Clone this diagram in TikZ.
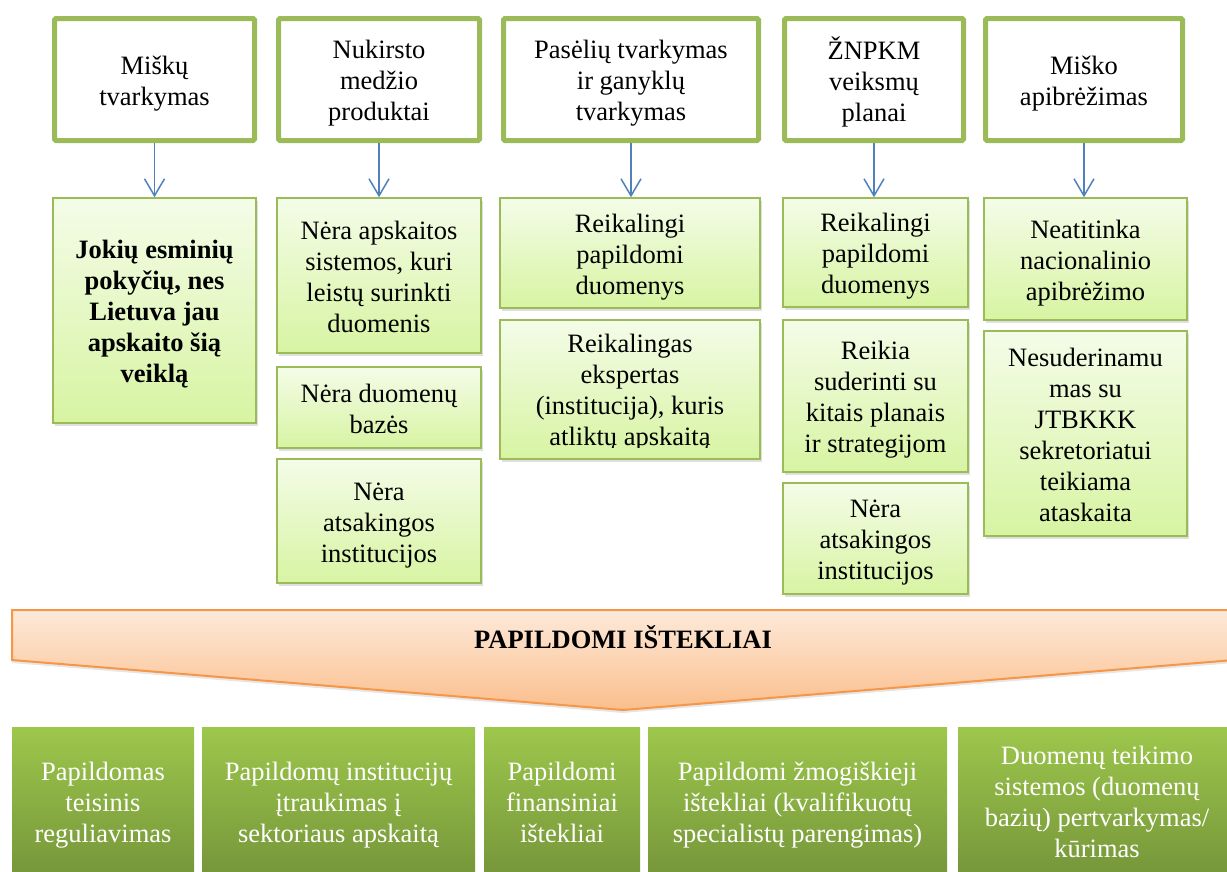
\documentclass[tikz,border=0pt]{standalone}
\usepackage{fontspec}
\setmainfont{Liberation Serif}
\usetikzlibrary{arrows.meta,shadows}
\definecolor{gborder}{HTML}{9BBB59}
\definecolor{gtop}{HTML}{F4FCE8}
\definecolor{gbot}{HTML}{D7F4A2}
\definecolor{ablue}{HTML}{4F81BD}
\definecolor{otop}{HTML}{FDEADA}
\definecolor{obot}{HTML}{FBBE8C}
\definecolor{oborder}{HTML}{F79646}
\definecolor{btop}{HTML}{9DC74C}
\definecolor{bbot}{HTML}{76963A}
\newcommand\fsz{\fontsize{26.5}{31}\selectfont}
\newcommand\TT[1]{\raisebox{-4pt}[\height][\depth]{\begin{tabular}{@{}c@{}}#1\end{tabular}}}
\begin{document}
\begin{tikzpicture}[x=1pt,y=-1pt,
 topbox/.style={draw=gborder, line width=5pt, fill=white, rounded corners=1.5pt, minimum height=122pt, inner sep=0pt, font=\fsz},
 gbox/.style={draw=gborder, line width=1.5pt, top color=gtop, bottom color=gbot, inner sep=0pt, font=\fsz, drop shadow={opacity=0.25, shadow xshift=1.5pt, shadow yshift=-3pt}},
 bbox/.style={top color=btop, bottom color=bbot, inner sep=0pt, font=\fsz, text=white, minimum height=148pt, drop shadow={opacity=0.15, shadow xshift=0pt, shadow yshift=-2pt}},
 conn/.style={draw=ablue, line width=1.5pt, -{Straight Barb[length=17pt,width=20pt]}},
 txt/.style={inner sep=0pt, align=center, font=\fsz}
]
\useasboundingbox (0,0) rectangle (1227,871);
\clip (0,0) rectangle (1227,871);

% top boxes
\node[topbox, minimum width=200pt] (t1) at (154.5,79.5) {\TT{Miškų\\tvarkymas}};
\node[topbox, minimum width=201pt] (t2) at (379,79.5) {\TT{Nukirsto\\medžio\\produktai}};
\node[topbox, minimum width=255pt] (t3) at (631,79.5) {\TT{Pasėlių tvarkymas\\ir ganyklų\\tvarkymas}};
\node[topbox, minimum width=179pt] (t4) at (874,79.5) {\TT{ŽNPKM\\veiksmų\\planai}};
\node[topbox, minimum width=197pt] (t5) at (1084,79.5) {\TT{Miško\\apibrėžimas}};

% column 1
\node[gbox, minimum width=203pt, minimum height=225pt, font=\fsz\bfseries] (g1a) at (154.5,310.5) {\TT{Jokių esminių\\pokyčių, nes\\Lietuva jau\\apskaito šią\\veiklą}};
% column 2
\node[gbox, minimum width=204pt, minimum height=155pt] (g2a) at (379,275.5) {\TT{Nėra apskaitos\\sistemos, kuri\\leistų surinkti\\duomenis}};
\node[gbox, minimum width=204pt, minimum height=81pt] (g2b) at (379,407.5) {\TT{Nėra duomenų\\bazės}};
\node[gbox, minimum width=204pt, minimum height=124pt] (g2c) at (379,521) {\TT{Nėra\\atsakingos\\institucijos}};
% column 3
\node[gbox, minimum width=260pt, minimum height=110pt] (g3a) at (630,253) {\TT{Reikalingi\\papildomi\\duomenys}};
\node[gbox, minimum width=260pt, minimum height=139pt] (g3b) at (630,389.5) {};
\begin{scope}
\clip (500,320) rectangle (760,447.5);
\node[txt] (g3btext) at (630,393) {Reikalingas\\ekspertas\\(institucija), kuris\\atliktų apskaitą};
\end{scope}
% column 4
\node[gbox, minimum width=185pt, minimum height=109pt] (g4a) at (875.5,252.5) {\TT{Reikalingi\\papildomi\\duomenys}};
\node[gbox, minimum width=185pt, minimum height=152pt] (g4b) at (875.5,396) {\TT{Reikia\\suderinti su\\kitais planais\\ir strategijom}};
\node[gbox, minimum width=185pt, minimum height=111pt] (g4c) at (875.5,538.5) {\TT{Nėra\\atsakingos\\institucijos}};
% column 5
\node[gbox, minimum width=203pt, minimum height=122pt] (g5a) at (1085.5,259) {\TT{Neatitinka\\nacionalinio\\apibrėžimo}};
\node[gbox, minimum width=203pt, minimum height=205pt] (g5b) at (1085.5,433.5) {\TT{Nesuderinamu\\mas su\\JTBKKK\\sekretoriatui\\teikiama\\ataskaita}};

% connectors
\draw[conn] (t1.south) -- (t1.south |- g1a.north);
\draw[conn] (t2.south) -- (t2.south |- g2a.north);
\draw[conn] (t3.south) -- (t3.south |- g3a.north);
\draw[conn] (t4.south) -- (t4.south |- g4a.north);
\draw[conn] (t5.south) -- (t5.south |- g5a.north);

% big arrow
\path[draw=oborder, line width=2pt, top color=otop, bottom color=obot, drop shadow={opacity=0.2, shadow xshift=0pt, shadow yshift=-3pt}]
 (12,610) -- (1234,610) -- (1234,660) -- (623,710) -- (12,660) -- cycle;
\node[txt, font=\fsz\bfseries] (title) at (623,637) {PAPILDOMI IŠTEKLIAI};

% bottom boxes
\node[bbox, minimum width=182pt] (b1) at (103,801) {\TT{Papildomas\\teisinis\\reguliavimas}};
\node[bbox, minimum width=273pt] (b2) at (338.5,801) {\TT{Papildomų institucijų\\įtraukimas į\\sektoriaus apskaitą}};
\node[bbox, minimum width=156pt] (b3) at (562,801) {\TT{Papildomi\\finansiniai\\ištekliai}};
\node[bbox, minimum width=299pt] (b4) at (797.5,801) {\TT{Papildomi žmogiškieji\\ištekliai (kvalifikuotų\\specialistų parengimas)}};
\node[bbox, minimum width=278pt] (b5) at (1097,801) {\TT{Duomenų teikimo\\sistemos (duomenų\\bazių) pertvarkymas/\\kūrimas}};
\end{tikzpicture}
\end{document}
